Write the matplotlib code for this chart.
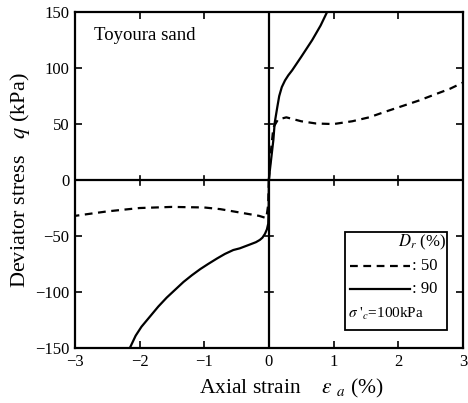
import numpy as np
import matplotlib.pyplot as plt
from matplotlib.patches import Rectangle

# Dr = 50 % (dashed), compression and extension branches
d50_comp_x = [0.0, 0.03, 0.07, 0.14, 0.27, 0.5, 0.73, 1.0, 1.29, 1.55, 1.8, 2.06, 2.32, 2.57, 2.8, 3.0]
d50_comp_q = [0.0, 25, 47, 54, 56, 52.5, 50.5, 50, 52.5, 56, 61, 66, 71, 76.5, 81.5, 87]
d50_ext_x = [0.0, -0.01, -0.04, -0.15, -0.45, -0.75, -1.0, -1.5, -2.0, -2.5, -3.0]
d50_ext_q = [0.0, -22, -34, -32, -29, -26, -24.5, -24, -25, -28, -32]

# Dr = 90 % (solid)
d90_comp_x = [0.0, 0.01, 0.04, 0.07, 0.09, 0.13, 0.16, 0.2, 0.25, 0.3, 0.36, 0.5, 0.67, 0.8, 0.9]
d90_comp_q = [0.0, 6, 21, 36, 51, 65, 75, 83, 89, 93.5, 98, 110, 125, 138, 150]
d90_ext_x = [0.0, -0.003, -0.01, -0.03, -0.06, -0.1, -0.14, -0.2, -0.29, -0.45, -0.55, -0.68, -0.8,
             -0.94, -1.06, -1.19, -1.32, -1.45, -1.58, -1.71, -1.84, -1.97, -2.06, -2.15]
d90_ext_q = [0.0, -24, -39, -44, -48, -51.5, -53.5, -55.5, -57.5, -61, -62.5, -66, -70,
             -75, -79.5, -85, -91, -98, -105, -113, -122, -131, -139, -150]

xticks = [-3, -2, -1, 0, 1, 2, 3]
yticks = [-150, -100, -50, 0, 50, 100, 150]

plt.rcParams['font.family'] = ['Liberation Serif', 'DejaVu Serif']
plt.rcParams['mathtext.fontset'] = 'stix'

fig = plt.figure(figsize=(4.68, 4.03), dpi=100)
ax = fig.add_axes([0.160, 0.1365, 0.829, 0.8335])

ax.plot(d50_comp_x, d50_comp_q, 'k--', lw=1.6, dashes=(3.5, 2.5))
ax.plot(d50_ext_x, d50_ext_q, 'k--', lw=1.6, dashes=(3.5, 2.5))
ax.plot(d90_comp_x, d90_comp_q, 'k-', lw=1.6)
ax.plot(d90_ext_x, d90_ext_q, 'k-', lw=1.6)

ax.set_xlim(-3, 3)
ax.set_ylim(-150, 150)
ax.set_xticks(xticks)
ax.set_yticks(yticks)
ax.tick_params(direction='in', length=5, width=1.2, top=True, right=True,
               labelsize=12, pad=4)
for s in ax.spines.values():
    s.set_linewidth(1.6)

# centre axes with crossing ticks
ax.axhline(0, color='k', lw=1.6)
ax.axvline(0, color='k', lw=1.6)
for xt in [-2, -1, 1, 2]:
    ax.plot([xt, xt], [-4, 4], color='k', lw=1.2)
for yt in [-100, -50, 50, 100]:
    ax.plot([-0.06, 0.06], [yt, yt], color='k', lw=1.2)

ax.set_xlabel(r'Axial strain    $\varepsilon$ $_{\mathit{a}}$ (%)', fontsize=15.5, labelpad=5)
ax.xaxis.set_label_coords(0.557, -0.085)
ax.set_ylabel(r'Deviator stress   $\mathit{q}$ (kPa)', fontsize=16, labelpad=2)

ax.text(0.05, 0.955, 'Toyoura sand', transform=ax.transAxes, fontsize=13.5,
        ha='left', va='top')

# legend box
ax.add_patch(Rectangle((0.695, 0.055), 0.265, 0.29, transform=ax.transAxes,
                       fill=False, lw=1.3, zorder=5))
ax.text(0.955, 0.315, r'$\mathit{D_r}$ (%)', transform=ax.transAxes, fontsize=12,
        ha='right', va='center')
ax.plot([0.71, 0.865], [0.245, 0.245], 'k--', lw=1.6, dashes=(3.5, 2.5),
        transform=ax.transAxes)
ax.text(0.87, 0.245, ': 50', transform=ax.transAxes, fontsize=12, ha='left', va='center')
ax.plot([0.71, 0.865], [0.175, 0.175], 'k-', lw=1.6, transform=ax.transAxes)
ax.text(0.87, 0.175, ': 90', transform=ax.transAxes, fontsize=12, ha='left', va='center')
ax.text(0.705, 0.1, r"$\sigma$ '$_c$=100kPa", transform=ax.transAxes, fontsize=11,
        ha='left', va='center')

fig.savefig('out.png', dpi=100)
